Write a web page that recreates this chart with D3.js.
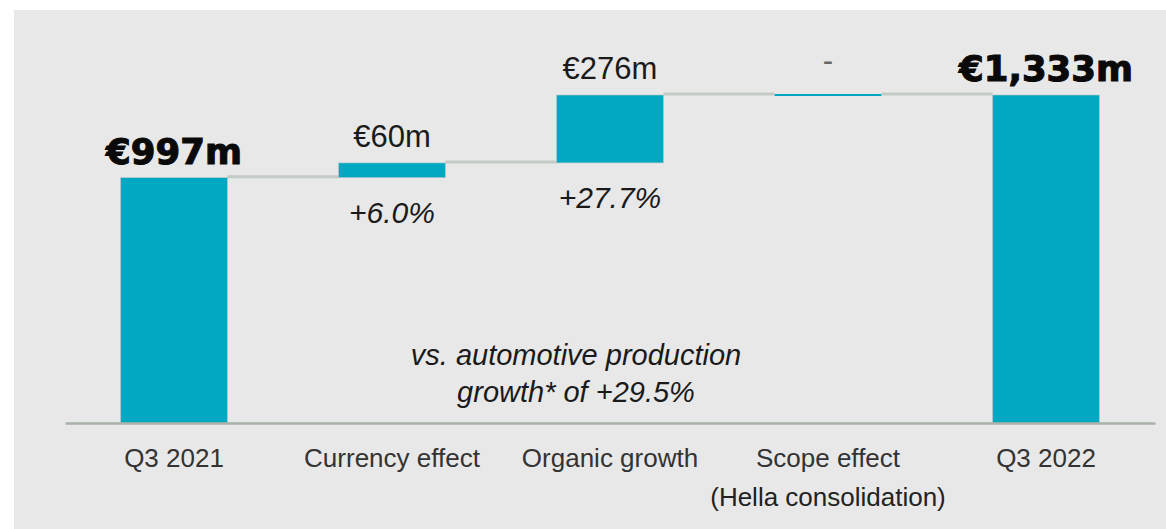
<!DOCTYPE html>
<html>
<head>
<meta charset="utf-8">
<script src="https://cdn.jsdelivr.net/npm/d3@7"></script>
<style>
  html, body { margin: 0; padding: 0; background: #ffffff; }
  svg { display: block; font-family: "Liberation Sans", Arial, sans-serif; }
</style>
</head>
<body>
<svg id="chart" width="1166" height="529"></svg>
<script>
// ---- data ----
const categories = ["Q3 2021", "Currency effect", "Organic growth", "Scope effect", "Q3 2022"];
const subLabels = ["", "", "", "(Hella consolidation)", ""];
const values = [997, 60, 276, 0, 1333];
const barTypes = ["total", "delta", "delta", "delta", "total"];
const valueLabels = ["€997m", "€60m", "€276m", "-", "€1,333m"];
const pctLabels = ["", "+6.0%", "+27.7%", "", ""];
const noteLines = ["vs. automotive production", "growth* of +29.5%"];

// ---- build waterfall ----
let running = 0;
const bars = categories.map((c, i) => {
  let start, end;
  if (barTypes[i] === "total") { start = 0; end = values[i]; running = values[i]; }
  else { start = running; end = running + values[i]; running = end; }
  return { cat: c, i, start, end, type: barTypes[i] };
});

const svg = d3.select("#chart");
const W = 1166, H = 529;

// background panel
svg.append("rect").attr("x", 14).attr("y", 10).attr("width", W - 14).attr("height", H - 10)
  .attr("fill", "#e8e8e8");

const x = d3.scaleBand().domain(categories).range([65, 1155]).paddingInner(0.51).paddingOuter(0.255);
const y = d3.scaleLinear().domain([0, 1333]).range([423, 95]);

const teal = "#02a8c1";

// connectors
const conn = svg.append("g");
for (let i = 0; i < bars.length - 1; i++) {
  const level = bars[i].end;
  conn.append("line")
    .attr("x1", x(bars[i].cat) + x.bandwidth())
    .attr("x2", x(bars[i + 1].cat))
    .attr("y1", y(level) - 1).attr("y2", y(level) - 1)
    .attr("stroke", "#c3cac3").attr("stroke-width", 3);
}

// bars
svg.append("g").selectAll("rect").data(bars).join("rect")
  .attr("x", d => x(d.cat))
  .attr("width", x.bandwidth())
  .attr("y", d => Math.min(y(d.start), y(d.end)) - (d.start === d.end ? 1 : 0))
  .attr("height", d => Math.max(2, Math.abs(y(d.start) - y(d.end))))
  .attr("fill", teal)
  .attr("stroke", d => d.start === d.end ? "none" : "#b9c6c6")
  .attr("stroke-width", 0.6);

// axis
const axis = svg.append("g").attr("transform", "translate(0,423)")
  .call(d3.axisBottom(x).tickSize(0));
axis.select(".domain").attr("stroke", "#a9b1a9").attr("stroke-width", 2.5);
axis.selectAll(".tick text")
  .attr("dy", null).attr("y", 44)
  .attr("font-family", "'Liberation Sans', Arial, sans-serif")
  .attr("font-size", 26).attr("fill", "#333333");
axis.selectAll(".tick").each(function(d, i) {
  if (subLabels[i]) {
    d3.select(this).append("text")
      .attr("y", 83).attr("text-anchor", "middle")
      .attr("font-size", 26).attr("fill", "#222222")
      .attr("font-family", "'Liberation Sans', Arial, sans-serif")
      .text(subLabels[i]);
  }
});

// value labels
const lbl = svg.append("g");
bars.forEach((d, i) => {
  const cx = x(d.cat) + x.bandwidth() / 2;
  const top = Math.min(y(d.start), y(d.end));
  const bottom = Math.max(y(d.start), y(d.end));
  if (d.type === "total") {
    lbl.append("text").attr("x", cx).attr("y", top - 14)
      .attr("text-anchor", "middle")
      .attr("font-family", "'DejaVu Sans', sans-serif")
      .attr("font-weight", "bold").attr("font-size", 35.5)
      .attr("fill", "#0a0a0a").attr("stroke", "#0a0a0a").attr("stroke-width", 1.1)
      .text(valueLabels[i]);
  } else {
    const isDash = valueLabels[i] === "-";
    lbl.append("text").attr("x", cx).attr("y", top - (isDash ? 24 : 16))
      .attr("text-anchor", "middle")
      .attr("font-size", 31).attr("fill", isDash ? "#666666" : "#1a1a1a")
      .text(valueLabels[i]);
    if (pctLabels[i]) {
      lbl.append("text").attr("x", cx).attr("y", bottom + 45)
        .attr("text-anchor", "middle")
        .attr("font-size", 30).attr("font-style", "italic")
        .attr("fill", "#1a1a1a").text(pctLabels[i]);
    }
  }
});

// note
svg.append("g").selectAll("text").data(noteLines).join("text")
  .attr("x", 576).attr("y", (d, i) => 365 + i * 37)
  .attr("text-anchor", "middle")
  .attr("font-size", 29).attr("font-style", "italic")
  .attr("fill", "#1a1a1a")
  .text(d => d);
</script>
</body>
</html>
